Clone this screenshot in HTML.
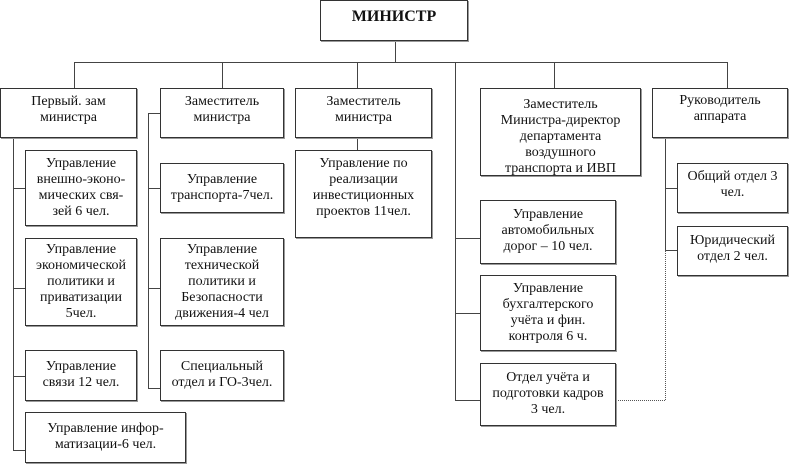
<!DOCTYPE html>
<html><head><meta charset="utf-8"><style>
body{margin:0;width:790px;height:465px;background:#fff;position:relative;overflow:hidden;font-family:"Liberation Serif","DejaVu Serif",serif;}
.b{position:absolute;box-sizing:border-box;border:1px solid #333;box-shadow:1px 1px 0 #999;background:#fff;text-align:center;font-size:14px;line-height:16px;color:#111;padding-top:3px;white-space:nowrap}
.h{position:absolute;height:0;border-top:1px solid #444}
.v{position:absolute;width:0;border-left:1px solid #444}
.dv{position:absolute;width:0;border-left:1px dotted #555}
.dh{position:absolute;height:0;border-top:1px dotted #555}
</style></head><body>
<div class="v" style="left:395px;top:40px;height:22px"></div>
<div class="h" style="left:74px;top:62px;width:653px"></div>
<div class="v" style="left:74px;top:62px;height:26px"></div>
<div class="v" style="left:222px;top:62px;height:26px"></div>
<div class="v" style="left:357px;top:62px;height:26px"></div>
<div class="v" style="left:455px;top:62px;height:338px"></div>
<div class="v" style="left:554px;top:62px;height:26px"></div>
<div class="v" style="left:727px;top:62px;height:26px"></div>

<div class="v" style="left:13px;top:137px;height:313px"></div>
<div class="h" style="left:13px;top:188px;width:12px"></div>
<div class="h" style="left:13px;top:288px;width:12px"></div>
<div class="h" style="left:13px;top:376px;width:12px"></div>
<div class="h" style="left:13px;top:450px;width:12px"></div>

<div class="v" style="left:148px;top:113px;height:275px"></div>
<div class="h" style="left:148px;top:113px;width:12px"></div>
<div class="h" style="left:148px;top:188px;width:12px"></div>
<div class="h" style="left:148px;top:288px;width:12px"></div>
<div class="h" style="left:148px;top:388px;width:12px"></div>

<div class="v" style="left:357px;top:137px;height:13px"></div>

<div class="h" style="left:455px;top:238px;width:25px"></div>
<div class="h" style="left:455px;top:313px;width:25px"></div>
<div class="h" style="left:455px;top:400px;width:25px"></div>

<div class="v" style="left:665px;top:137px;height:113px"></div>
<div class="h" style="left:665px;top:188px;width:12px"></div>
<div class="h" style="left:665px;top:250px;width:12px"></div>
<div class="dv" style="left:665px;top:250px;height:150px"></div>
<div class="dh" style="left:615px;top:400px;width:50px"></div>

<div class="b" style="left:320px;top:0;width:148px;height:41px;font-size:16px;font-weight:bold;padding-top:8px">МИНИСТР</div>

<div class="b" style="left:0;top:88px;width:137px;height:50px;padding-top:5px">Первый. зам<br>министра</div>
<div class="b" style="left:160px;top:88px;width:124px;height:50px;padding-top:5px">Заместитель<br>министра</div>
<div class="b" style="left:295px;top:88px;width:137px;height:50px;padding-top:5px">Заместитель<br>министра</div>
<div class="b" style="left:480px;top:88px;width:161px;height:88px;padding-top:8px">Заместитель<br>Министра-директор<br>департамента<br>воздушного<br>транспорта и ИВП</div>
<div class="b" style="left:652px;top:88px;width:136px;height:50px;padding-top:4px">Руководитель<br>аппарата</div>

<div class="b" style="left:25px;top:150px;width:112px;height:76px;padding-top:5px">Управление<br>внешно-эконо-<br>мических свя-<br>зей 6 чел.</div>
<div class="b" style="left:25px;top:238px;width:112px;height:88px;padding-top:3px">Управление<br>экономической<br>политики и<br>приватизации<br>5чел.</div>
<div class="b" style="left:25px;top:350px;width:112px;height:51px;padding-top:8px">Управление<br>связи 12 чел.</div>
<div class="b" style="left:25px;top:412px;width:161px;height:51px;padding-top:8px">Управление инфор-<br>матизации-6 чел.</div>

<div class="b" style="left:160px;top:163px;width:124px;height:50px;padding-top:8px">Управление<br>транспорта-7чел.</div>
<div class="b" style="left:160px;top:238px;width:124px;height:88px;padding-top:3px">Управление<br>технической<br>политики и<br>Безопасности<br>движения-4 чел</div>
<div class="b" style="left:160px;top:350px;width:124px;height:51px;padding-top:8px">Специальный<br>отдел и ГО-3чел.</div>

<div class="b" style="left:295px;top:150px;width:137px;height:88px;padding-top:5px">Управление по<br>реализации<br>инвестиционных<br>проектов 11чел.</div>

<div class="b" style="left:480px;top:200px;width:136px;height:64px;padding-top:6px">Управление<br>автомобильных<br>дорог – 10 чел.</div>
<div class="b" style="left:480px;top:275px;width:136px;height:76px;padding-top:5px">Управление<br>бухгалтерского<br>учёта и фин.<br>контроля 6 ч.</div>
<div class="b" style="left:480px;top:363px;width:136px;height:63px;padding-top:6px">Отдел учёта и<br>подготовки кадров<br>3 чел.</div>

<div class="b" style="left:677px;top:163px;width:111px;height:50px;padding-top:5px">Общий отдел 3<br>чел.</div>
<div class="b" style="left:677px;top:226px;width:111px;height:50px;padding-top:6px">Юридический<br>отдел 2 чел.</div>
</body></html>
